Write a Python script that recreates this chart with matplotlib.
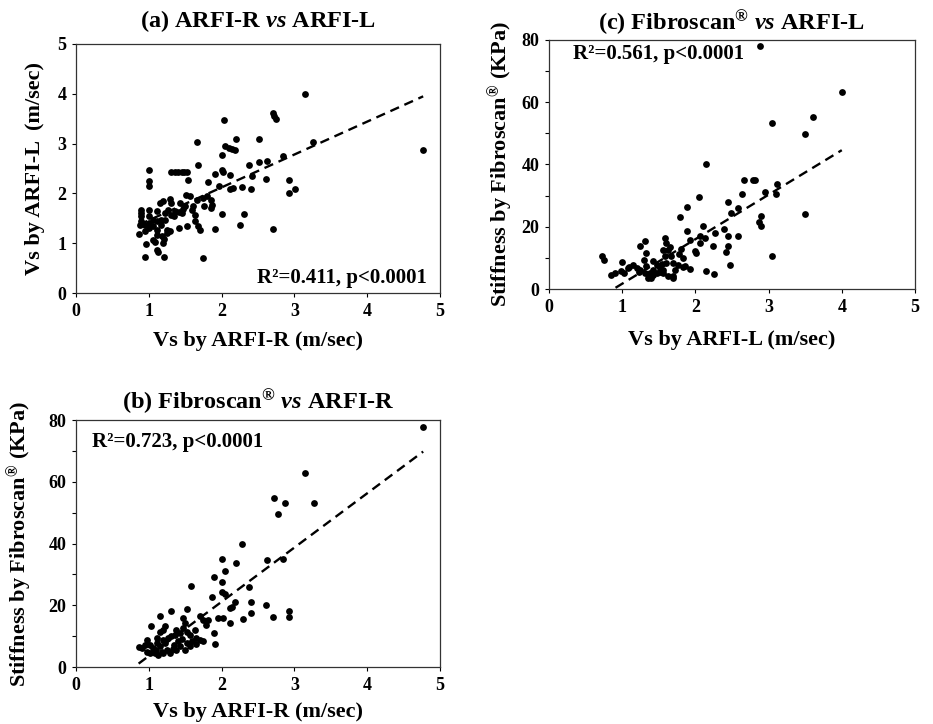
import numpy as np
import matplotlib
matplotlib.use('Agg')
import matplotlib.pyplot as plt

plt.rcParams['font.family'] = ['Liberation Serif', 'DejaVu Serif']
plt.rcParams['font.weight'] = 'bold'
plt.rcParams['mathtext.fontset'] = 'custom'
plt.rcParams['mathtext.rm'] = 'Liberation Serif:bold'
plt.rcParams['mathtext.it'] = 'Liberation Serif:italic:bold'
plt.rcParams['mathtext.bf'] = 'Liberation Serif:bold'

# (a) ARFI-R vs ARFI-L
a_x = [3.15, 2.70, 2.72, 2.75, 2.03, 1.66, 2.20, 2.51, 3.26, 4.77,
       2.05, 2.10, 2.14, 2.18, 2.01, 2.85, 1.68, 2.38, 2.51, 2.63,
       1.00, 1.00, 1.00, 1.31, 1.36, 1.40, 1.45, 1.49, 1.53, 2.01,
       2.02, 1.91, 2.12, 1.54, 1.82, 2.42, 2.61, 2.92, 2.41, 1.96,
       2.12, 2.16, 2.28, 2.92, 3.01, 1.51, 1.56, 1.66, 1.75, 1.80,
       1.86, 1.87, 1.86, 1.76, 1.15, 1.20, 1.29, 1.31, 2.01, 2.31,
       2.25, 2.71, 1.91, 1.70, 1.41, 1.52, 1.63, 1.63, 1.68, 1.74,
       0.95, 1.21, 1.11, 1.12, 0.96, 1.06, 1.08, 1.21, 1.20, 0.86,
       0.89, 0.89, 0.89, 0.89, 0.88, 1.00, 1.00, 1.00, 1.00, 1.11,
       1.11, 1.11, 1.11, 1.22, 1.22, 1.25, 1.25, 1.34, 1.36, 1.41,
       1.45, 1.47, 1.43, 1.50, 1.27, 1.31, 1.17, 1.17, 1.06, 1.06,
       0.95, 0.95, 1.59, 1.61, 1.18, 1.29]
a_y = [4.00, 3.61, 3.56, 3.49, 3.48, 3.03, 3.10, 3.09, 3.03, 2.87,
       2.95, 2.92, 2.90, 2.87, 2.77, 2.76, 2.57, 2.57, 2.64, 2.66,
       2.46, 2.24, 2.14, 2.43, 2.43, 2.42, 2.43, 2.42, 2.43, 2.47,
       2.42, 2.39, 2.37, 2.26, 2.23, 2.34, 2.29, 2.26, 2.09, 2.14,
       2.09, 2.10, 2.12, 2.00, 2.09, 1.97, 1.94, 1.87, 1.90, 1.94,
       1.87, 1.77, 1.70, 1.74, 1.80, 1.85, 1.88, 1.80, 1.58, 1.58,
       1.37, 1.29, 1.28, 1.27, 1.30, 1.34, 1.57, 1.44, 1.34, 0.70,
       0.72, 0.72, 0.86, 0.82, 0.99, 1.06, 1.03, 1.08, 1.00, 1.18,
       1.67, 1.60, 1.54, 1.44, 1.37, 1.67, 1.54, 1.40, 1.30, 1.64,
       1.44, 1.27, 1.17, 1.60, 1.47, 1.27, 1.20, 1.55, 1.65, 1.62,
       1.60, 1.68, 1.80, 1.74, 1.67, 1.57, 1.47, 1.37, 1.47, 1.34,
       1.37, 1.24, 1.67, 1.74, 1.14, 1.24]
a_fit = (0.66, 0.80)

# (b) Fibroscan vs ARFI-R
b_x = [4.77, 3.14, 2.72, 2.77, 2.87, 3.27, 2.28, 2.01, 2.05, 2.20,
       2.63, 2.85, 1.89, 2.01, 1.58, 2.38, 1.87, 2.01, 2.05, 2.18,
       2.14, 2.12, 2.41, 2.61, 2.41, 2.12, 2.30, 2.71, 2.92, 2.93,
       1.95, 2.02, 1.79, 1.82, 1.70, 1.75, 1.89, 1.91, 1.31, 1.52,
       1.15, 1.03, 1.22, 1.20, 1.47, 1.50, 1.47, 1.52, 1.38, 1.36,
       1.43, 1.63, 1.65, 1.70, 1.75, 1.57, 1.59, 1.15, 1.11, 1.20,
       0.97, 0.95, 0.86, 0.90, 1.02, 1.06, 1.08, 1.02, 1.13, 1.20,
       1.25, 1.29, 1.34, 1.38, 1.43, 1.11, 1.15, 1.22, 1.27, 1.31,
       1.50, 1.57, 1.52, 1.40, 1.33, 1.18, 1.10, 1.65, 1.45, 0.98]
b_y = [77.8, 63.0, 54.9, 49.6, 53.0, 53.0, 39.8, 35.0, 31.2, 33.6,
       34.7, 34.9, 29.1, 27.4, 26.1, 25.8, 22.6, 24.3, 23.7, 21.2,
       19.6, 19.1, 21.0, 20.2, 17.5, 14.2, 15.5, 16.2, 18.0, 16.2,
       16.0, 16.0, 13.7, 15.3, 16.4, 15.3, 11.0, 7.5, 18.3, 18.8,
       16.6, 13.4, 13.4, 11.9, 15.8, 14.2, 12.6, 11.5, 12.1, 10.5,
       11.0, 12.1, 9.4, 8.8, 8.3, 10.5, 8.3, 11.5, 9.4, 8.8,
       8.8, 7.2, 6.5, 6.1, 7.2, 6.1, 4.5, 4.5, 4.0, 4.5,
       5.6, 4.5, 7.2, 5.6, 6.7, 7.8, 6.7, 7.8, 9.4, 9.9,
       5.6, 6.7, 7.8, 8.5, 6.0, 5.0, 5.5, 7.5, 9.0, 5.0]
b_fit = (17.57, -14.0)

# (c) Fibroscan vs ARFI-L
c_x = [2.88, 4.00, 3.61, 3.50, 3.05, 3.50, 3.05, 2.14, 2.67, 2.79,
       2.81, 3.11, 2.95, 3.10, 2.64, 2.05, 2.45, 1.88, 2.58, 2.49,
       1.79, 2.90, 2.87, 2.90, 1.89, 1.92, 2.11, 2.13, 2.27, 2.24,
       2.39, 2.45, 2.45, 2.42, 2.47, 2.58, 2.14, 2.26, 2.00, 2.01,
       2.06, 2.06, 1.77, 1.86, 1.58, 1.60, 1.63, 1.67, 1.56, 1.58,
       1.60, 1.56, 1.70, 1.72, 1.70, 1.76, 1.83, 1.31, 1.33, 1.30,
       1.33, 1.31, 1.24, 1.42, 1.47, 1.51, 1.42, 1.47, 1.51, 1.38,
       1.42, 1.15, 1.20, 1.24, 1.08, 0.99, 1.03, 1.00, 1.09, 0.85,
       0.90, 0.73, 0.75, 1.35, 1.40, 1.56, 1.63, 1.70, 1.81, 1.83,
       1.65, 1.93, 1.23, 1.55]
c_y = [78.1, 63.2, 55.2, 49.8, 53.2, 24.2, 10.7, 40.1, 34.9, 35.1,
       35.1, 33.8, 31.3, 30.5, 30.6, 29.4, 27.9, 26.3, 26.0, 24.4,
       23.0, 23.3, 21.4, 20.3, 18.5, 15.8, 20.1, 16.4, 18.0, 13.7,
       19.2, 16.9, 13.7, 11.8, 7.8, 17.1, 5.7, 4.9, 12.1, 11.6,
       16.9, 14.8, 11.3, 7.3, 16.4, 14.8, 12.6, 10.5, 12.6, 10.5,
       8.3, 6.2, 8.3, 6.2, 4.1, 7.8, 7.1, 15.3, 11.6, 9.4,
       7.3, 5.1, 13.7, 9.0, 7.8, 6.7, 6.2, 5.1, 5.6, 5.1,
       4.6, 7.8, 6.7, 6.2, 6.7, 5.7, 5.1, 8.6, 7.1, 4.6,
       5.1, 10.5, 9.4, 3.5, 3.5, 5.0, 4.2, 3.5, 12.9, 10.0,
       13.5, 6.5, 5.4, 8.0]
c_fit = (14.3, -12.6)

fig = plt.figure(figsize=(9.33, 7.24), dpi=100)


def panel(rect, xs, ys, fit, ymax, yticks, minor, title, xlabel, ylabel, stat, stat_pos, stat_ha, stat_va,
          tpad, xpad, ypad):
    ax = fig.add_axes(rect)
    ax.scatter(xs, ys, s=24, color='black', linewidths=0, zorder=3)
    xx = np.array([min(xs), max(xs)])
    ax.plot(xx, fit[0] * xx + fit[1], color='black', lw=1.7, ls=(0, (4, 2.5)), zorder=2)
    ax.set_xlim(0, 5)
    ax.set_ylim(0, ymax)
    ax.set_xticks(range(6))
    ax.set_yticks(yticks)
    if minor is not None:
        ax.set_yticks(minor, minor=True)
    ax.tick_params(which='both', direction='out', length=3, width=0.8, labelsize=13, pad=4)
    for sp in ax.spines.values():
        sp.set_linewidth(0.9)
        sp.set_color('#333333')
    ax.set_title(title, fontsize=17.5, fontweight='bold', pad=tpad)
    ax.set_xlabel(xlabel, fontsize=16, fontweight='bold', labelpad=xpad)
    ax.set_ylabel(ylabel, fontsize=16, fontweight='bold', labelpad=ypad)
    ax.text(stat_pos[0], stat_pos[1], stat, transform=ax.transAxes, fontsize=15,
            fontweight='bold', ha=stat_ha, va=stat_va)
    return ax


fib = 'Stiffness by Fibroscan$^{\u00ae}$ (KPa)'

panel([0.0815, 0.5953, 0.390, 0.344], a_x, a_y, a_fit, 5, range(6), None,
      r'(a) ARFI-R $\it{vs}$ ARFI-L', 'Vs by ARFI-R (m/sec)', 'Vs by ARFI-L  (m/sec)',
      'R\u00b2=0.411, p<0.0001', (0.964, 0.02), 'right', 'bottom', 12, 8, 9)

panel([0.5884, 0.6008, 0.3923, 0.344], c_x, c_y, c_fit, 80, range(0, 81, 20), range(10, 80, 20),
      '(c) Fibroscan$^{\u00ae}$ $\\it{vs}$ ARFI-L', 'Vs by ARFI-L (m/sec)', fib,
      'R\u00b2=0.561, p<0.0001', (0.065, 0.985), 'left', 'top', 7, 10, 3)

panel([0.0815, 0.0787, 0.390, 0.341], b_x, b_y, b_fit, 80, range(0, 81, 20), range(10, 80, 20),
      '(b) Fibroscan$^{\u00ae}$ $\\it{vs}$ ARFI-R', 'Vs by ARFI-R (m/sec)', fib,
      'R\u00b2=0.723, p<0.0001', (0.045, 0.95), 'left', 'top', 8, 6, 9)

fig.savefig('out.png', dpi=100)
